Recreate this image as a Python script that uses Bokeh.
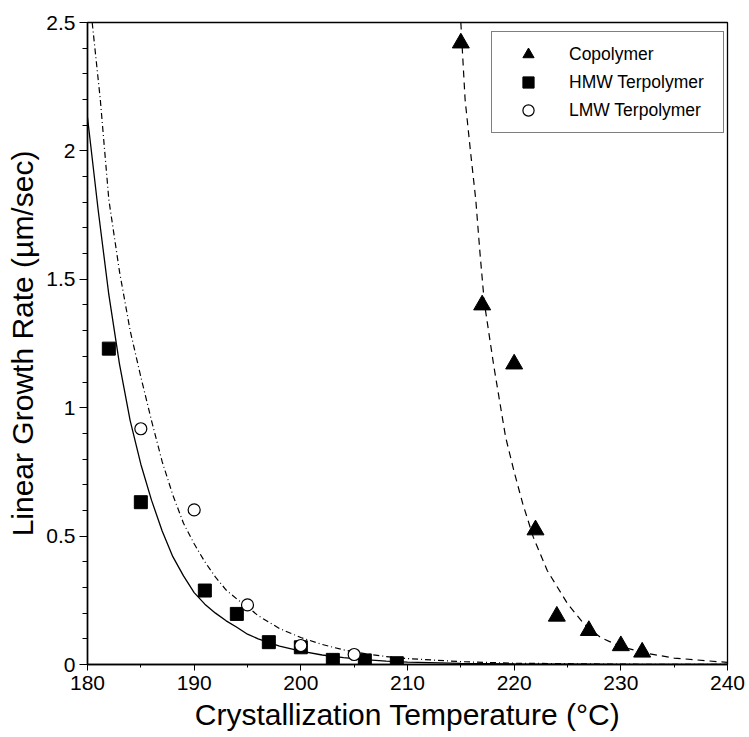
from bokeh.plotting import figure
from bokeh.models import FixedTicker, NumeralTickFormatter, Legend, LegendItem, Range1d
from bokeh.embed import file_html
from bokeh.resources import INLINE

# ---- measured points ----
copolymer_T = [215, 217, 220, 222, 224, 227, 230, 232]
copolymer_rate = [2.42, 1.40, 1.17, 0.524, 0.188, 0.132, 0.073, 0.048]

hmw_T = [182, 185, 191, 194, 197, 200, 203, 206, 209]
hmw_rate = [1.23, 0.632, 0.288, 0.197, 0.087, 0.067, 0.018, 0.016, 0.005]

lmw_T = [185, 190, 195, 200, 205]
lmw_rate = [0.918, 0.602, 0.232, 0.074, 0.039]

# ---- fitted curves ----
hmw_fit_T = [180, 181, 182, 183, 184, 185, 186, 187, 188, 189, 190, 191, 192, 193,
             194, 195, 196, 198, 200, 202, 204, 206, 208, 210, 215, 220, 230, 240]
hmw_fit_rate = [2.13, 1.77, 1.44, 1.17, 0.95, 0.78, 0.64, 0.52, 0.42, 0.345, 0.28, 0.235,
                0.20, 0.17, 0.145, 0.118, 0.10, 0.072, 0.052, 0.037, 0.027, 0.019,
                0.013, 0.009, 0.004, 0.002, 0.0005, 0.0001]

lmw_fit_T = [180.44, 181.2, 182, 183, 184, 185, 186, 187, 188, 189, 190, 191, 192, 193,
             194, 195, 196, 197, 198, 200, 202, 204, 206, 208, 210, 215, 220, 230, 240]
lmw_fit_rate = [2.5, 2.2, 1.81, 1.53, 1.30, 1.12, 0.95, 0.79, 0.66, 0.55, 0.47, 0.40,
                0.34, 0.29, 0.255, 0.225, 0.19, 0.165, 0.14, 0.105, 0.078, 0.057,
                0.042, 0.031, 0.023, 0.011, 0.005, 0.0012, 0.0003]

cop_fit_T = [215.0, 215.4, 215.9, 216.4, 216.8, 217.2, 218.1, 219.2, 220.0, 220.8, 221.8,
             223.1, 225.0, 226.5, 228.1, 230.0, 232.5, 235.0, 240.0]
cop_fit_rate = [2.5, 2.2, 2.0, 1.81, 1.6, 1.41, 1.16, 0.885, 0.75, 0.627, 0.495,
                0.366, 0.237, 0.16, 0.105, 0.07, 0.043, 0.025, 0.008]

x_major = [180, 190, 200, 210, 220, 230, 240]
x_minor = [185, 195, 205, 215, 225, 235]
y_major = [0, 0.5, 1, 1.5, 2, 2.5]
y_minor = [i / 10 for i in range(26)]

legend_labels = ["Copolymer", "HMW Terpolymer", "LMW Terpolymer"]

FONT = "Liberation Sans"

p = figure(width=749, height=737, x_range=Range1d(180, 240), y_range=Range1d(0, 2.5),
           min_border_left=87, min_border_right=22, min_border_top=22, min_border_bottom=73,
           output_backend="svg", toolbar_location=None)

p.xgrid.grid_line_color = None
p.ygrid.grid_line_color = None
p.outline_line_color = "black"
p.outline_line_width = 1.3
p.background_fill_color = "white"
p.border_fill_color = "white"

for ax in (p.xaxis[0], p.yaxis[0]):
    ax.axis_line_color = "black"
    ax.axis_line_width = 1.5
    ax.major_tick_line_color = "black"
    ax.minor_tick_line_color = "black"
    ax.major_tick_in = 0
    ax.minor_tick_in = 0
    ax.major_label_text_font = FONT
    ax.major_label_text_font_size = "21px"
    ax.major_label_text_color = "black"
    ax.axis_label_text_font = FONT
    ax.axis_label_text_font_size = "30px"
    ax.axis_label_text_font_style = "normal"
    ax.axis_label_text_color = "black"

p.xaxis[0].ticker = FixedTicker(ticks=x_major, minor_ticks=x_minor)
p.yaxis[0].ticker = FixedTicker(ticks=y_major, minor_ticks=y_minor)
p.yaxis[0].formatter = NumeralTickFormatter(format="0.[0]")
p.xaxis[0].major_tick_out = 6
p.xaxis[0].minor_tick_out = 3
p.yaxis[0].major_tick_out = 8
p.yaxis[0].minor_tick_out = 5
p.xaxis[0].major_label_standoff = 5
p.yaxis[0].major_label_standoff = 4
p.xaxis[0].axis_label_standoff = 5
p.yaxis[0].axis_label_standoff = 4
p.xaxis[0].axis_label = "Crystallization Temperature (°C)"
p.yaxis[0].axis_label = "Linear Growth Rate (µm/sec)"

# curves
p.line(hmw_fit_T, hmw_fit_rate, line_color="black", line_width=1.3)
p.line(lmw_fit_T, lmw_fit_rate, line_color="black", line_width=1.2, line_dash="6 3 1 3")
p.line(cop_fit_T, cop_fit_rate, line_color="black", line_width=1.2, line_dash="7 5")

# points
r_cop = p.scatter(copolymer_T, copolymer_rate, marker="triangle", size=17,
                  fill_color="black", line_color="black")
r_hmw = p.scatter(hmw_T, hmw_rate, marker="square", size=13,
                  fill_color="black", line_color="black")
r_lmw = p.scatter(lmw_T, lmw_rate, marker="circle", size=12,
                  fill_color="white", line_color="black", line_width=1.2)

legend = Legend(items=[LegendItem(label=legend_labels[0], renderers=[r_cop]),
                       LegendItem(label=legend_labels[1], renderers=[r_hmw]),
                       LegendItem(label=legend_labels[2], renderers=[r_lmw])],
                location=(404, 531), padding=8, glyph_width=56, glyph_height=28,
                spacing=0, label_standoff=13, label_width=146, label_height=20,
                label_text_font=FONT, label_text_font_size="17.5px",
                label_text_color="black",
                border_line_color="black", border_line_width=1.2,
                background_fill_color="white", background_fill_alpha=1.0, margin=0)
p.add_layout(legend)

open("out.html", "w").write(file_html(p, INLINE))
